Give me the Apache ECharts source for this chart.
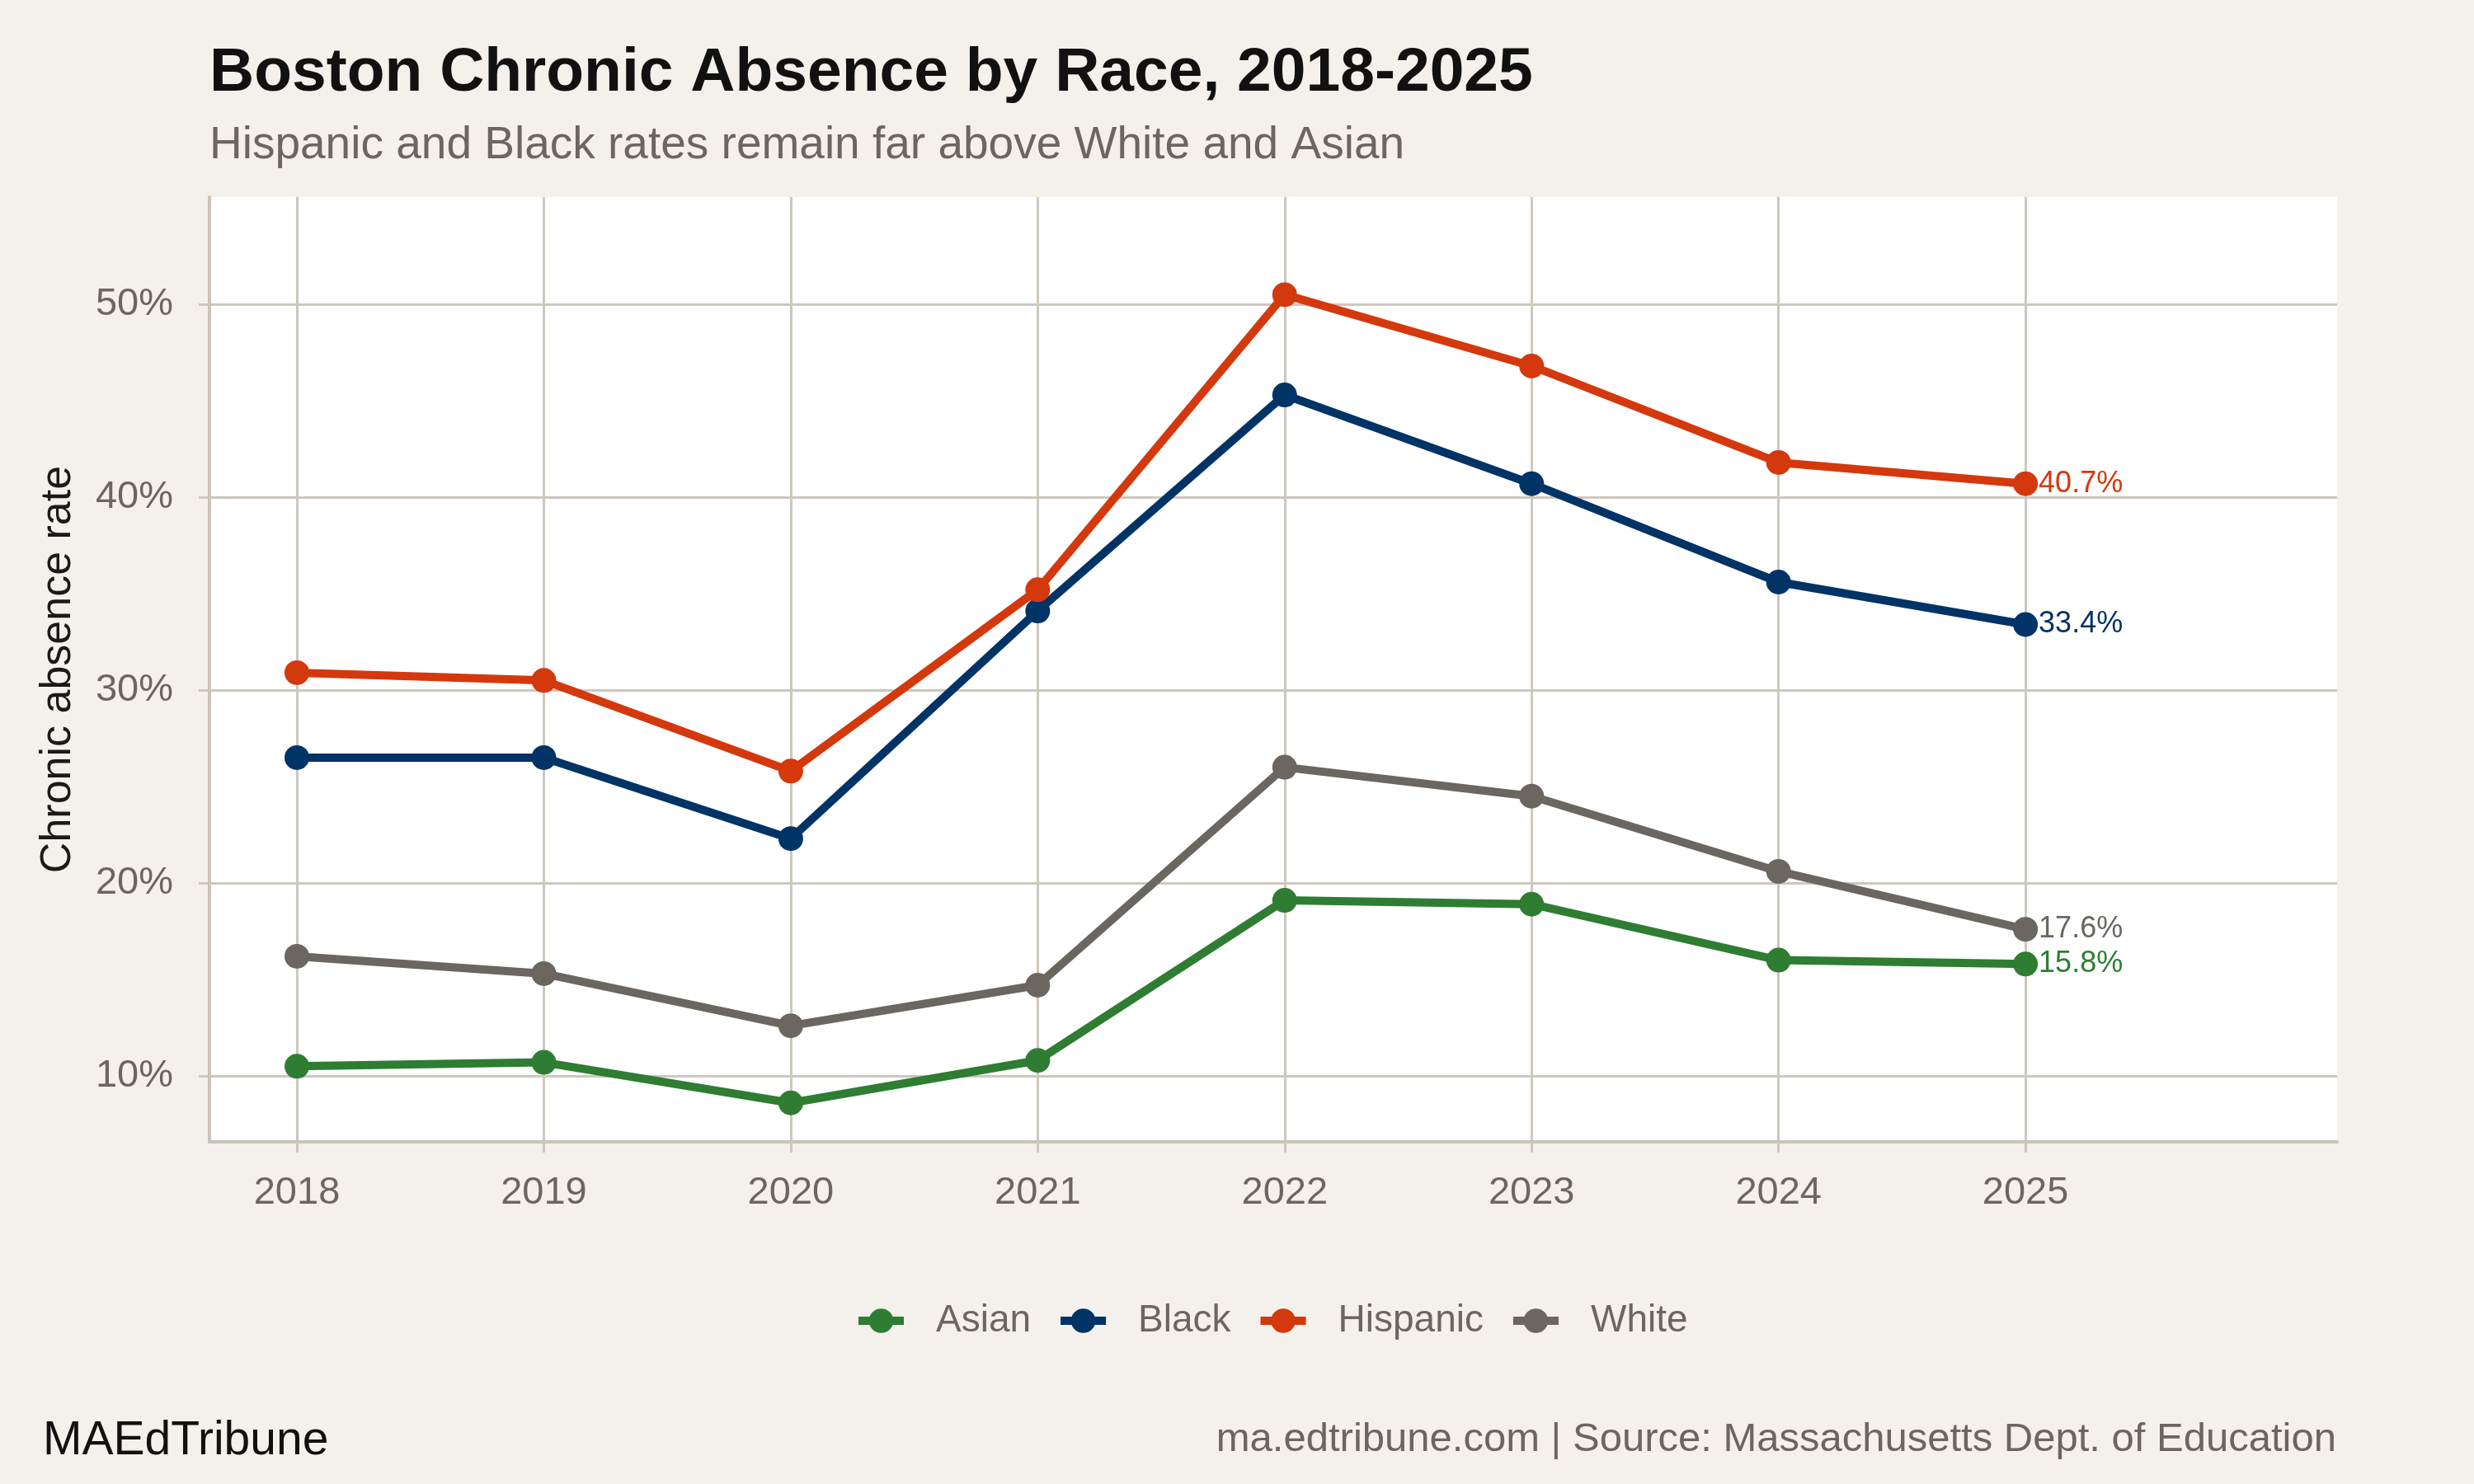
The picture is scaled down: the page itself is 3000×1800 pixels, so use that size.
<!DOCTYPE html>
<html>
<head>
<meta charset="UTF-8">
<title>Boston Chronic Absence by Race</title>
<script src="https://cdn.jsdelivr.net/npm/echarts@6/dist/echarts.min.js"></script>
<style>
  html, body { margin: 0; padding: 0; background: #f4f1ec; }
  #chart { width: 3000px; height: 1800px; }
</style>
</head>
<body>
<div id="chart"></div>
<script>
// data
var years = [2018, 2019, 2020, 2021, 2022, 2023, 2024, 2025];
var asian    = [10.5, 10.7, 8.6, 10.8, 19.1, 18.9, 16.0, 15.8];
var black    = [26.5, 26.5, 22.3, 34.1, 45.3, 40.7, 35.6, 33.4];
var hispanic = [30.9, 30.5, 25.8, 35.2, 50.5, 46.8, 41.8, 40.7];
var white    = [16.2, 15.3, 12.6, 14.7, 26.0, 24.5, 20.6, 17.6];
var yTicks = [10, 20, 30, 40, 50];

var groups = ['Asian', 'Black', 'Hispanic', 'White'];
var colors = {Asian: '#2e7d32', Black: '#003366', Hispanic: '#d4380d', White: '#6b6660'};
var values = {Asian: asian, Black: black, Hispanic: hispanic, White: white};

var FONT = '"Liberation Sans", Arial, Helvetica, sans-serif';
var gridCol = '#cdc7be';

function pairs(arr) {
  return years.map(function (y, i) { return [y, arr[i]]; });
}

var series = groups.map(function (g) {
  return {
    name: g,
    type: 'line',
    data: pairs(values[g]),
    symbol: 'circle',
    symbolSize: 30,
    color: colors[g],
    lineStyle: { width: 10, color: colors[g] },
    itemStyle: { color: colors[g] },
    emphasis: { disabled: true },
    endLabel: {
      show: true,
      distance: 16,
      color: colors[g],
      fontFamily: FONT,
      fontSize: 36,
      formatter: function (p) { return p.value[1].toFixed(1) + '%'; }
    }
  };
});

var chart = echarts.init(document.getElementById('chart'));
chart.setOption({
  backgroundColor: '#f4f1ec',
  animation: false,
  textStyle: { fontFamily: FONT },
  grid: {
    left: 254, right: 166, top: 239, bottom: 415,
    show: true, backgroundColor: '#ffffff', borderWidth: 0,
    containLabel: false
  },
  legend: {
    data: groups,
    left: 1031,
    top: 1574,
    itemWidth: 55,
    itemHeight: 37,
    itemGap: 31,
    lineStyle: { width: 10 },
    textStyle: { color: '#6b6660', fontSize: 46, fontFamily: FONT, padding: [0, 0, 0, 34] }
  },
  xAxis: {
    type: 'value',
    min: 2017.646,
    max: 2026.262,
    axisLine: { show: true, lineStyle: { color: '#c9c3b9', width: 4 } },
    axisTick: { show: true, length: 13, customValues: years, lineStyle: { color: gridCol, width: 3 } },
    axisLabel: {
      customValues: years,
      margin: 39,
      color: '#6b6660',
      fontSize: 47,
      fontFamily: FONT,
      formatter: function (v) { return String(v); }
    },
    splitLine: { show: true, lineStyle: { color: gridCol, width: 3 } }
  },
  yAxis: {
    type: 'value',
    min: 6.58,
    max: 55.56,
    axisLine: { show: true, lineStyle: { color: '#c9c3b9', width: 4 } },
    axisTick: { show: true, length: 13, customValues: yTicks, lineStyle: { color: gridCol, width: 3 } },
    axisLabel: {
      customValues: yTicks,
      margin: 44,
      color: '#6b6660',
      fontSize: 47,
      fontFamily: FONT,
      formatter: function (v) { return v + '%'; }
    },
    splitLine: { show: true, lineStyle: { color: gridCol, width: 3 } }
  },
  graphic: [
    { type: 'text', x: 254, y: 89, style: {
        text: 'Boston Chronic Absence by Race, 2018-2025',
        font: 'bold 75px ' + FONT, fill: '#111111', verticalAlign: 'middle' } },
    { type: 'text', x: 254, y: 177, style: {
        text: 'Hispanic and Black rates remain far above White and Asian',
        font: '55px ' + FONT, fill: '#6b6660', verticalAlign: 'middle' } },
    { type: 'text', x: 71, y: 812, rotation: Math.PI / 2, style: {
        text: 'Chronic absence rate',
        font: '52px ' + FONT, fill: '#1a1a1a', align: 'center', verticalAlign: 'middle' } },
    { type: 'text', x: 52, y: 1748, style: {
        text: 'MAEdTribune',
        font: '57px ' + FONT, fill: '#111111', verticalAlign: 'middle' } },
    { type: 'text', x: 2833, y: 1746, style: {
        text: 'ma.edtribune.com | Source: Massachusetts Dept. of Education',
        font: '49px ' + FONT, fill: '#6b6660', align: 'right', verticalAlign: 'middle' } }
  ],
  series: series
});
</script>
</body>
</html>
